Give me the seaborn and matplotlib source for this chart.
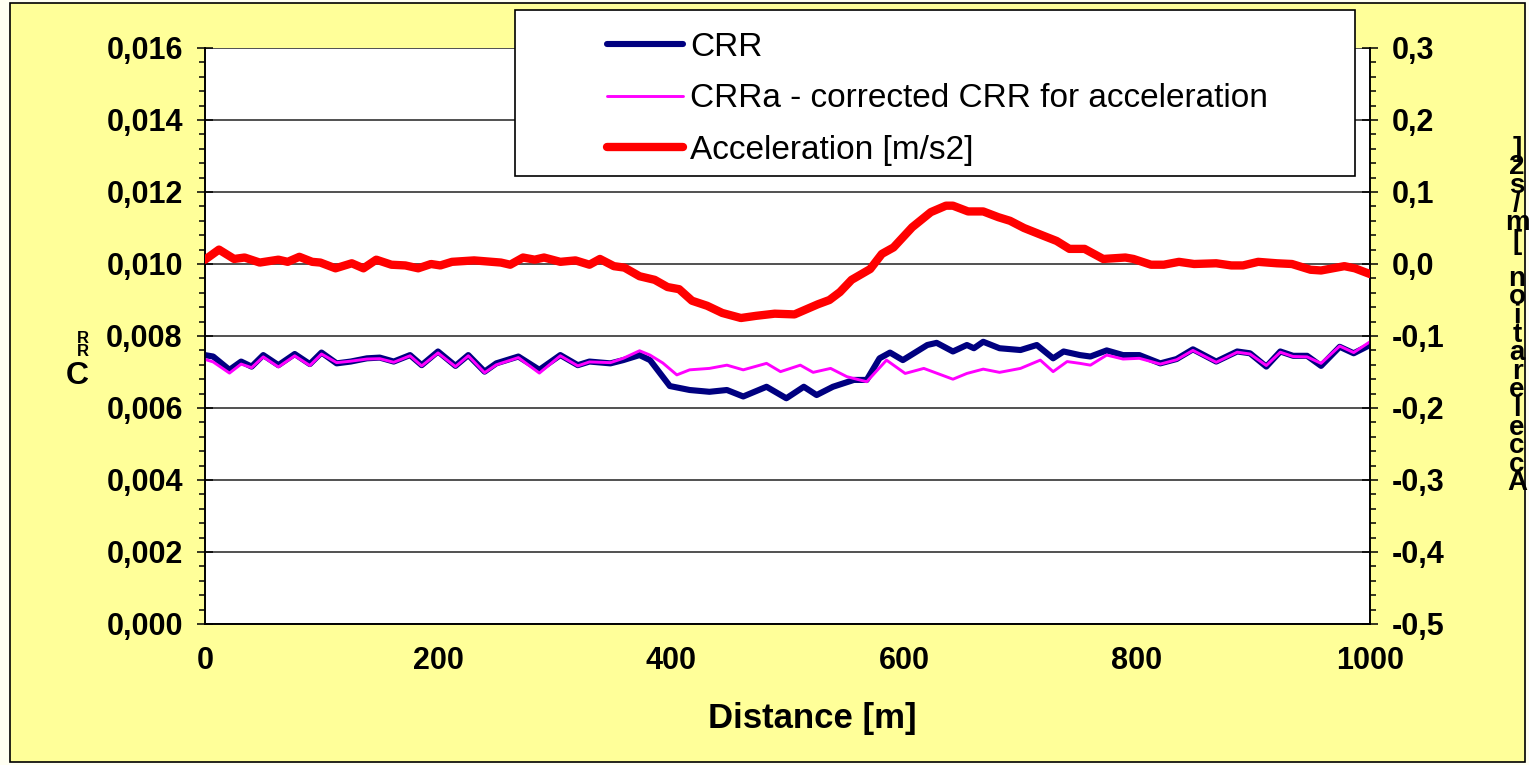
import matplotlib
matplotlib.use('Agg')
import matplotlib.pyplot as plt
from matplotlib.patches import Rectangle
from matplotlib.ticker import MultipleLocator, FuncFormatter
import seaborn as sns

# values
crr_dist = [0, 7, 21, 31, 40, 50, 63, 77, 90, 100, 113, 125, 139, 150, 162, 176, 186, 200,
            215, 226, 240, 250, 269, 287, 305, 320, 330, 348, 359, 373, 382, 399, 416, 433,
            448, 462, 482, 499, 514, 525, 539, 557, 568, 579, 588, 599, 620, 628, 642, 654,
            660, 668, 682, 700, 714, 728, 737, 751, 760, 774, 788, 802, 820, 834, 848, 868,
            886, 897, 911, 923, 934, 946, 958, 974, 986, 1000]
crr_vals = [0.00747, 0.00743, 0.00706, 0.00729, 0.00715, 0.00747, 0.00719, 0.00750, 0.00722,
            0.00754, 0.00724, 0.00729, 0.00738, 0.00740, 0.00729, 0.00747, 0.00719, 0.00757,
            0.00717, 0.00747, 0.00701, 0.00724, 0.00743, 0.00706, 0.00747, 0.00719, 0.00729,
            0.00724, 0.00733, 0.00747, 0.00733, 0.00661, 0.00650, 0.00645, 0.00650, 0.00632,
            0.00659, 0.00627, 0.00659, 0.00636, 0.00659, 0.00678, 0.00678, 0.00738, 0.00754,
            0.00733, 0.00775, 0.00781, 0.00757, 0.00775, 0.00766, 0.00784, 0.00766, 0.00761,
            0.00775, 0.00738, 0.00757, 0.00747, 0.00743, 0.00760, 0.00747, 0.00747, 0.00724,
            0.00736, 0.00763, 0.00729, 0.00757, 0.00752, 0.00715, 0.00757, 0.00745, 0.00745,
            0.00717, 0.00770, 0.00752, 0.00775]

crra_dist = [0, 7, 21, 31, 40, 50, 63, 77, 90, 100, 113, 125, 139, 150, 162, 176, 186, 200,
             215, 226, 240, 250, 269, 287, 305, 320, 330, 348, 359, 373, 382, 393, 405, 416,
             433, 448, 462, 482, 494, 511, 522, 537, 551, 568, 585, 601, 617, 642, 654, 668,
             682, 700, 717, 728, 740, 751, 760, 774, 788, 802, 820, 834, 848, 868, 886, 897,
             911, 923, 934, 946, 958, 974, 986, 1000]
crra_vals = [0.00735, 0.00728, 0.00697, 0.00722, 0.00712, 0.00742, 0.00714, 0.00745, 0.00718,
             0.00750, 0.00726, 0.00730, 0.00736, 0.00737, 0.00727, 0.00745, 0.00717, 0.00753,
             0.00715, 0.00745, 0.00698, 0.00720, 0.00740, 0.00697, 0.00745, 0.00717, 0.00728,
             0.00726, 0.00738, 0.00759, 0.00747, 0.00725, 0.00692, 0.00706, 0.00710, 0.00719,
             0.00706, 0.00724, 0.00701, 0.00719, 0.00699, 0.00710, 0.00687, 0.00673, 0.00733,
             0.00696, 0.00710, 0.00680, 0.00696, 0.00708, 0.00699, 0.00710, 0.00733, 0.00701,
             0.00729, 0.00724, 0.00719, 0.00747, 0.00736, 0.00738, 0.00722, 0.00734, 0.00760,
             0.00727, 0.00755, 0.00750, 0.00718, 0.00755, 0.00743, 0.00742, 0.00724, 0.00772,
             0.00754, 0.00784]

acc_dist = [0, 12, 25, 34, 47, 63, 71, 81, 92, 99, 112, 126, 136, 147, 160, 172, 183, 194,
            202, 212, 231, 254, 262, 273, 283, 291, 305, 318, 330, 339, 351, 360, 373, 386,
            397, 407, 418, 431, 444, 460, 473, 489, 506, 526, 536, 545, 555, 571, 581, 591,
            607, 623, 636, 642, 655, 668, 681, 691, 703, 720, 731, 742, 755, 771, 790, 797,
            812, 823, 836, 849, 868, 881, 891, 904, 920, 933, 949, 958, 978, 987, 1000]
acc_vals = [0.006, 0.020, 0.007, 0.009, 0.002, 0.006, 0.003, 0.010, 0.003, 0.002, -0.006,
            0.001, -0.006, 0.006, -0.001, -0.002, -0.006, 0.000, -0.002, 0.003, 0.005, 0.002,
            -0.001, 0.009, 0.006, 0.009, 0.003, 0.005, -0.001, 0.007, -0.003, -0.005, -0.017,
            -0.022, -0.032, -0.035, -0.051, -0.058, -0.068, -0.075, -0.072, -0.069, -0.070,
            -0.056, -0.050, -0.039, -0.022, -0.007, 0.014, 0.023, 0.051, 0.072, 0.081, 0.081,
            0.073, 0.073, 0.065, 0.060, 0.050, 0.039, 0.032, 0.021, 0.021, 0.007, 0.009, 0.007,
            -0.001, -0.001, 0.003, 0.000, 0.001, -0.002, -0.002, 0.003, 0.001, 0.000, -0.008,
            -0.009, -0.003, -0.006, -0.014]

W, H = 1529, 765
sns.set_style('white')
plt.rcParams['font.family'] = ['Liberation Sans', 'DejaVu Sans']
plt.rcParams.update({'text.color': 'black', 'axes.labelcolor': 'black',
                     'xtick.color': 'black', 'ytick.color': 'black'})

fig = plt.figure(figsize=(W / 100, H / 100), dpi=100, facecolor='#FFFFF2')
# yellow chart area with black border
fig.patches.append(Rectangle((10 / W, 1 - 762 / H), 1515 / W, 759 / H, transform=fig.transFigure,
                             facecolor='#FFFF99', edgecolor='black', lw=1.2, zorder=-5))

ax = fig.add_axes([205 / W, 1 - 624 / H, 1165 / W, 576 / H])
ax.set_facecolor('white')
ax2 = ax.twinx()

sns.lineplot(x=crr_dist, y=crr_vals, ax=ax, color='#000080', lw=4.4, label='CRR',
             legend=False, solid_joinstyle='round', solid_capstyle='round', zorder=3)
sns.lineplot(x=crra_dist, y=crra_vals, ax=ax, color='#FF00FF', lw=2.1,
             label='CRRa - corrected CRR for acceleration', legend=False,
             solid_joinstyle='round', zorder=4)
sns.lineplot(x=acc_dist, y=acc_vals, ax=ax2, color='#FF0000', lw=6.0, label='Acceleration [m/s2]',
             legend=False, solid_joinstyle='round', solid_capstyle='round', zorder=5)

ax.set_xlim(0, 1000)
ax.set_ylim(0, 0.016)
ax2.set_ylim(-0.5, 0.3)
ax.xaxis.set_major_locator(MultipleLocator(200))
ax.yaxis.set_major_locator(MultipleLocator(0.002))
ax.yaxis.set_minor_locator(MultipleLocator(0.0004))
ax2.yaxis.set_major_locator(MultipleLocator(0.1))
ax2.yaxis.set_minor_locator(MultipleLocator(0.02))
ax.yaxis.set_major_formatter(FuncFormatter(lambda v, p: f'{v:.3f}'.replace('.', ',')))
ax2.yaxis.set_major_formatter(FuncFormatter(
    lambda v, p: f'{(0.0 if abs(v) < 1e-9 else v):.1f}'.replace('.', ',')))

ax.grid(axis='y', color='#222222', lw=1.1)
ax.grid(axis='x', visible=False)
ax.set_axisbelow(True)

for a in (ax, ax2):
    for s in a.spines.values():
        s.set_color('black')
        s.set_linewidth(1.2)
    a.tick_params(which='major', direction='inout', length=12, width=1.1, color='black',
                  labelsize=22, pad=10)
    a.tick_params(which='minor', direction='out', length=4, width=1.1, color='black')
    for lbl in a.get_xticklabels() + a.get_yticklabels():
        lbl.set_fontweight('bold')
ax.spines['top'].set_visible(False)
ax2.spines['top'].set_visible(False)
ax.set_ylabel('')
ax2.set_ylabel('')
ax.set_xlabel('Distance [m]', fontsize=25, fontweight='bold')
ax.xaxis.set_label_coords(0.521, -0.135)

# stacked axis titles as in the original
fig.text(77 / W, 1 - 376 / H, 'C', fontsize=23, fontweight='bold', ha='center', va='center')
fig.text(83 / W, 1 - 345 / H, 'R\nR', fontsize=12, fontweight='bold', ha='center', va='center',
         linespacing=0.85)
right_title = 'Acceleration [m/s2]'
fig.text(1517 / W, 1 - 316 / H, '\n'.join(reversed(right_title)), fontsize=20,
         fontweight='bold', ha='center', va='center', linespacing=0.63)

# legend box
fig.patches.append(Rectangle((515 / W, 1 - 176 / H), 840 / W, 166 / H, transform=fig.transFigure,
                             facecolor='white', edgecolor='black', lw=1.2, zorder=8))
handles = ax.get_lines() + ax2.get_lines()
fig.legend(handles=handles, labels=[h.get_label() for h in handles], loc='upper left',
           bbox_to_anchor=(590 / W, 1 - 15 / H), bbox_transform=fig.transFigure,
           frameon=False, fontsize=24, borderpad=0, handlelength=2.3, handletextpad=0.2,
           labelspacing=0.62).set_zorder(9)

fig.savefig('out.png', dpi=100, facecolor=fig.get_facecolor())
